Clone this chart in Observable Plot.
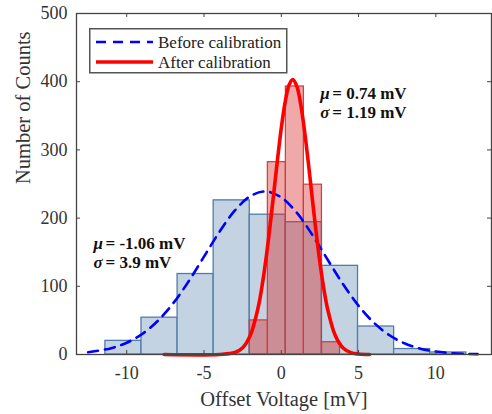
<!DOCTYPE html>
<html><head><meta charset="utf-8">
<script src="https://cdn.jsdelivr.net/npm/d3@7"></script>
<script src="https://cdn.jsdelivr.net/npm/@observablehq/plot@0.6"></script>
<style>
body{margin:0;background:#fff;}
#wrap{position:relative;width:492px;height:414px;font-family:"Liberation Serif","Times New Roman",serif;}
#legend{position:absolute;left:89px;top:28px;}
</style></head><body><div id="wrap"></div>
<script>
// Histogram bins (mV) and counts
const beforeEdges = [-11.38, -9.045, -6.71, -4.375, -2.04, 0.295, 2.63, 4.965, 7.3, 9.635, 11.97];
const beforeCounts = [20, 54, 118, 226, 205, 194, 130, 41, 8, 3];
const afterEdges = [-2.04, -0.87, 0.295, 1.46, 2.63, 3.80];
const afterCounts = [50, 282, 393, 249, 18];

// Fitted normal curves
const beforeFitX = [-12.5, -11, -10, -9, -8, -7, -6, -5, -4, -3, -2, -1, 0, 1, 2, 3, 4, 5, 6, 7, 8, 9, 10, 11, 12, 12.7];
const beforeFitY = [3.2, 9.3, 17.3, 30.1, 49.1, 74.9, 107.1, 143.5, 179.9, 211.2, 232.2, 239, 230.3, 207.9, 175.7, 139, 103, 71.5, 46.4, 28.2, 16.1, 8.6, 4.3, 2.0, 0.9, 0.5];
const afterFitX = [-7.58, -4, -3, -2.5, -2, -1.5, -1.25, -1, -0.75, -0.5, -0.25, 0, 0.25, 0.5, 0.74, 1, 1.25, 1.5, 1.75, 2, 2.25, 2.5, 2.75, 3, 3.5, 4, 4.5, 5, 5.71];
const afterFitY = [0, 0.1, 2.9, 9.9, 28.4, 68.6, 99.6, 138.4, 184, 234, 285, 332, 370, 395, 403, 393.5, 367.6, 328.6, 281, 230, 180, 135, 96.8, 66.4, 27.4, 9.5, 2.7, 0.7, 0];

const xTicks = [-10, -5, 0, 5, 10];
const yTicks = [0, 100, 200, 300, 400, 500];
const seriesNames = ["Before calibration", "After calibration"];
const statSymbols = ["μ", "σ"];
const beforeStats = ["= -1.06 mV", "= 3.9 mV"];
const afterStats = ["= 0.74 mV", "= 1.19 mV"];

const beforeBars = beforeCounts.map((c, i) => ({x1: beforeEdges[i], x2: beforeEdges[i + 1], count: c}));
const afterBars = afterCounts.map((c, i) => ({x1: afterEdges[i], x2: afterEdges[i + 1], count: c}));
const beforeFit = beforeFitX.map((x, i) => ({x, y: beforeFitY[i]}));
const afterFit = afterFitX.map((x, i) => ({x, y: afterFitY[i]}));

const W = 492, H = 414, mL = 76, mR = 1, mT = 13, mB = 60;
const pw = W - mL - mR, ph = H - mT - mB;
const axisColor = "#444";
const font = "'Liberation Serif', 'Times New Roman', serif";

const chart = Plot.plot({
  width: W, height: H,
  marginLeft: mL, marginRight: mR, marginTop: mT, marginBottom: mB,
  style: {fontFamily: font, background: "white", color: "#333"},
  x: {domain: [-13.25, 13.6]},
  y: {domain: [0, 500]},
  marks: [
    Plot.rect(beforeBars, {x1: "x1", x2: "x2", y1: 0, y2: "count", fill: "#c4d3e2", stroke: "#4f7dab", strokeWidth: 1.3}),
    Plot.rect(afterBars, {x1: "x1", x2: "x2", y1: 0, y2: "count", fill: "#d62828", fillOpacity: 0.4, stroke: "#d03c3c", strokeWidth: 1.2}),
    Plot.line(beforeFit, {x: "x", y: "y", stroke: "#0000ff", strokeWidth: 2.6, strokeDasharray: "10,7", curve: "catmull-rom"}),
    Plot.line(afterFit, {x: "x", y: "y", stroke: "#ff0000", strokeWidth: 3.6, curve: "catmull-rom"}),
    Plot.frame({stroke: axisColor, strokeWidth: 1.3}),
    Plot.tickX(xTicks, {x: d => d, insetTop: ph - 4, stroke: axisColor}),
    Plot.tickX(xTicks, {x: d => d, insetBottom: ph - 4, stroke: axisColor}),
    Plot.tickY(yTicks, {y: d => d, insetRight: pw - 4, stroke: axisColor}),
    Plot.tickY(yTicks, {y: d => d, insetLeft: pw - 4, stroke: axisColor}),
    Plot.axisX(xTicks, {tickSize: 0, tickPadding: 12, fontSize: 18, label: null, tickFormat: d => String(d)}),
    Plot.axisY(yTicks, {tickSize: 0, tickPadding: 9, fontSize: 18, label: null, tickFormat: d => String(d)}),
    Plot.text(["Offset Voltage [mV]"], {frameAnchor: "bottom", dy: 45, lineAnchor: "middle", fontSize: 20.5, fill: "#333"}),
    Plot.text(["Number of Counts"], {frameAnchor: "left", dx: -53, rotate: -90, lineAnchor: "middle", fontSize: 20.5, fill: "#333"}),
    Plot.text([statSymbols.join("\n")], {x: 2.52, y: 370, lineAnchor: "middle", textAnchor: "start", lineHeight: 1.12, fontSize: 17, fontWeight: "bold", fontStyle: "italic", fill: "#111"}),
    Plot.text([afterStats.join("\n")], {x: 2.52, y: 370, dx: 12, lineAnchor: "middle", textAnchor: "start", lineHeight: 1.12, fontSize: 17, fontWeight: "bold", fill: "#111"}),
    Plot.text([statSymbols.join("\n")], {x: -12.15, y: 149.6, lineAnchor: "middle", textAnchor: "start", lineHeight: 1.12, fontSize: 17, fontWeight: "bold", fontStyle: "italic", fill: "#111"}),
    Plot.text([beforeStats.join("\n")], {x: -12.15, y: 149.6, dx: 12, lineAnchor: "middle", textAnchor: "start", lineHeight: 1.12, fontSize: 17, fontWeight: "bold", fill: "#111"})
  ]
});

const wrap = document.getElementById("wrap");
wrap.appendChild(chart);

// Legend overlay
const lg = d3.select(wrap).append("div").attr("id", "legend");
const ls = lg.append("svg").attr("width", 200).attr("height", 47).style("display", "block");
ls.append("rect").attr("x", 0.75).attr("y", 0.75).attr("width", 197).attr("height", 44)
  .attr("fill", "white").attr("stroke", "#555").attr("stroke-width", 1.5);
const legendStyles = [
  {stroke: "#0000ff", width: 2.6, dash: "10,7"},
  {stroke: "#ff0000", width: 3.6, dash: null}
];
seriesNames.forEach((name, i) => {
  const cy = 14 + i * 20;
  ls.append("line").attr("x1", 7).attr("x2", 64).attr("y1", cy).attr("y2", cy)
    .attr("stroke", legendStyles[i].stroke).attr("stroke-width", legendStyles[i].width)
    .attr("stroke-dasharray", legendStyles[i].dash);
  ls.append("text").attr("x", 69).attr("y", cy + 5.5).text(name)
    .attr("font-family", font).attr("font-size", 17).attr("fill", "#222");
});
</script></body></html>
